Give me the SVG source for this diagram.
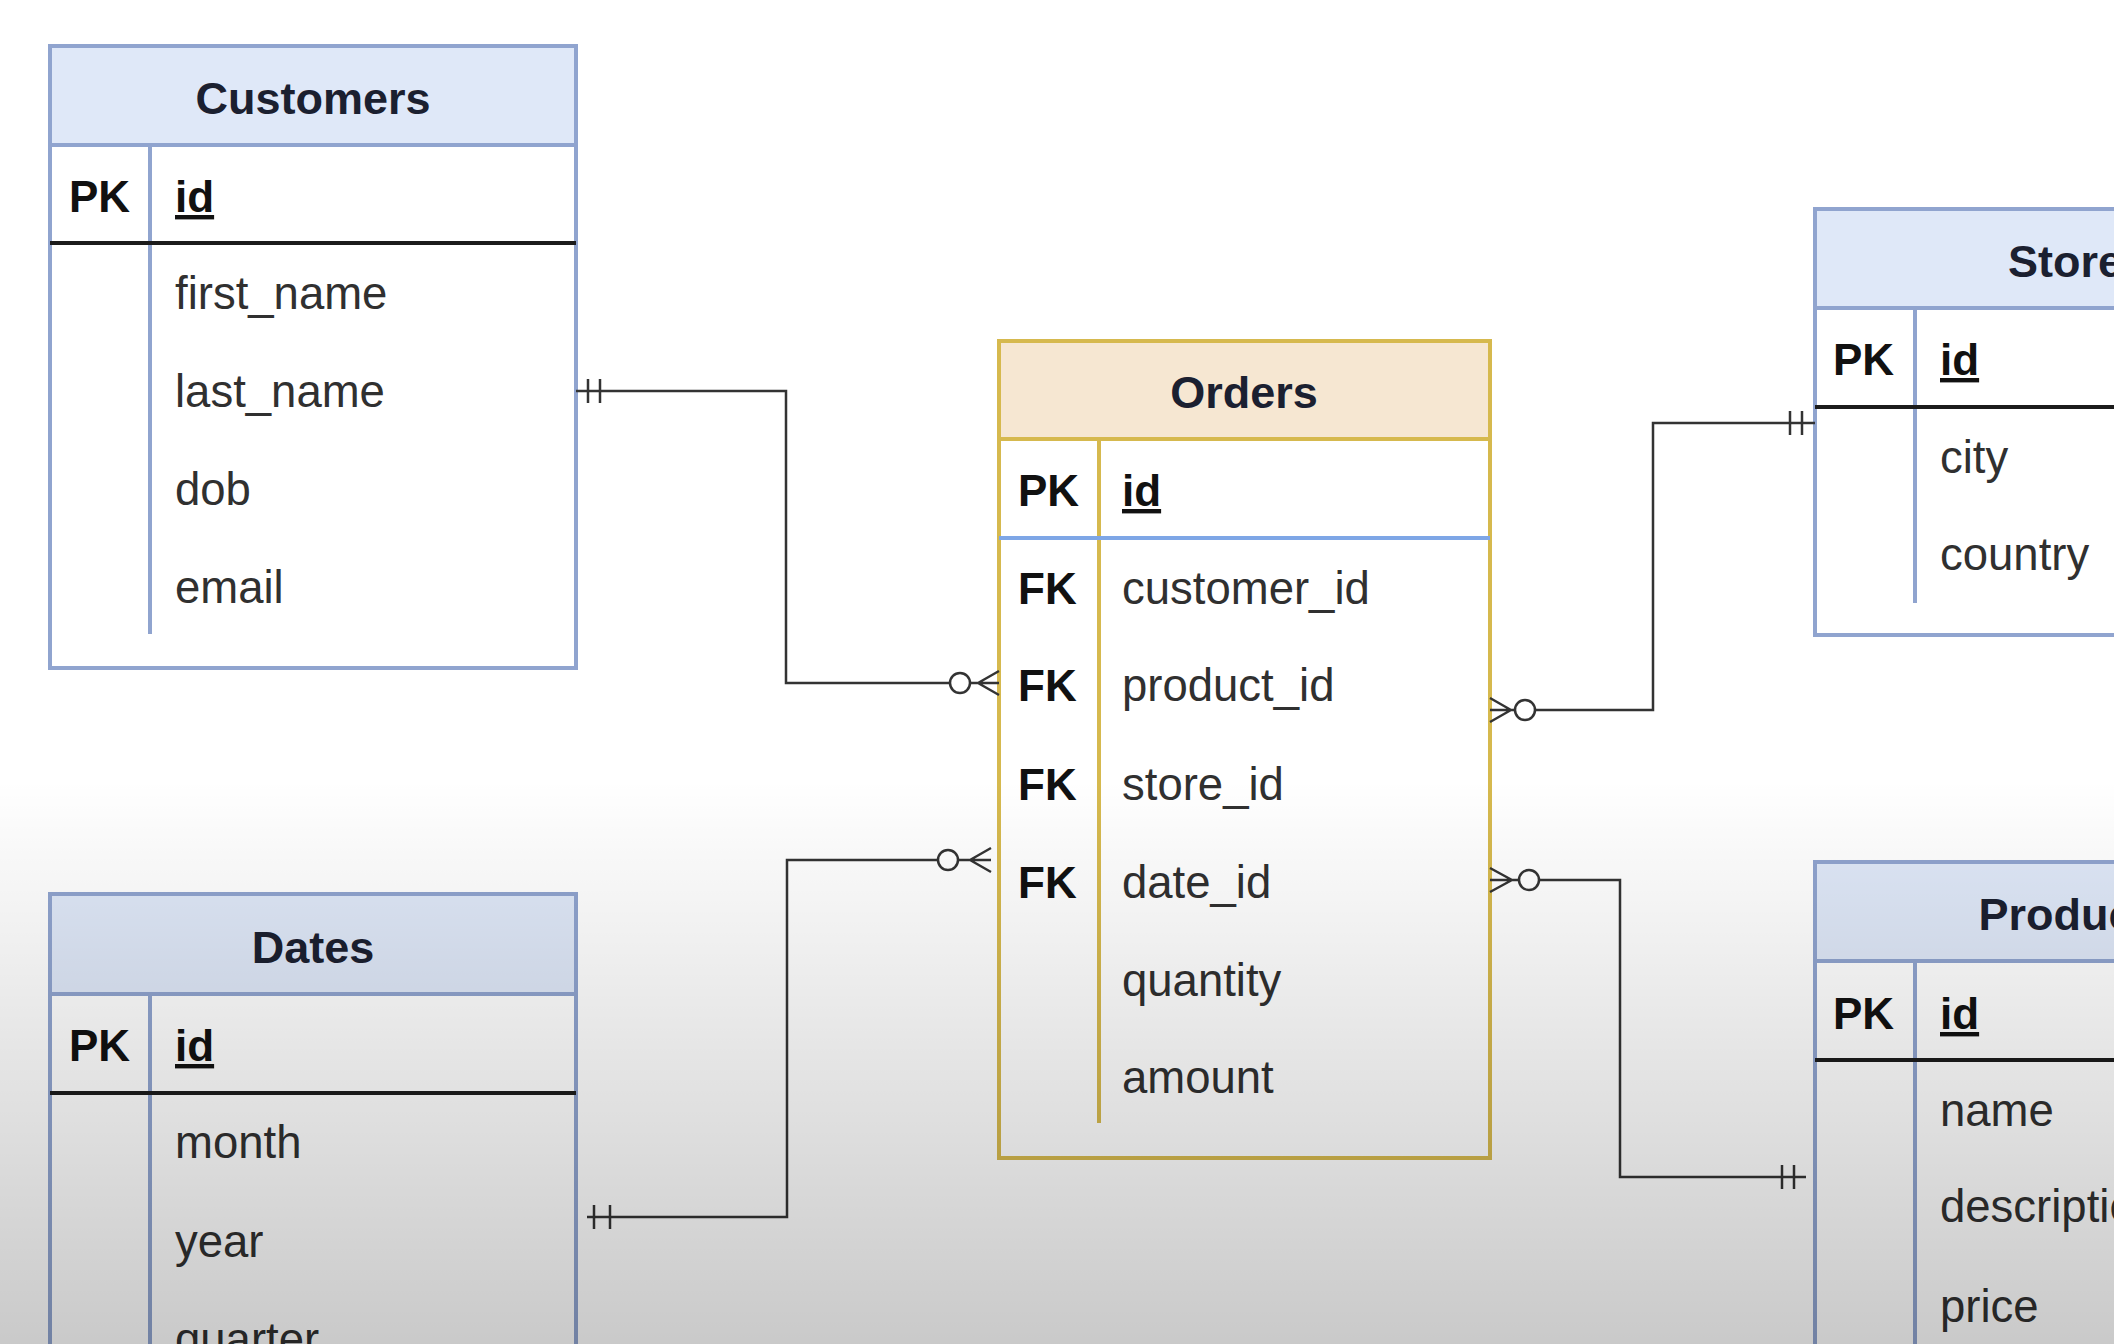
<svg xmlns="http://www.w3.org/2000/svg" width="2114" height="1344" viewBox="0 0 2114 1344">
<defs>
<linearGradient id="shade" x1="0" y1="0" x2="0" y2="1">
<stop offset="0" stop-color="#000" stop-opacity="0"/>
<stop offset="1" stop-color="#000" stop-opacity="0.21"/>
</linearGradient>
<style>
.box-b{fill:#ffffff;stroke:#90a4cf;stroke-width:4}
.hdr-b{fill:#dfe8f8;stroke:#90a4cf;stroke-width:4}
.div-b{stroke:#90a4cf;stroke-width:4}
.box-y{fill:#ffffff;stroke:#d6b94e;stroke-width:4}
.hdr-y{fill:#f6e7d2;stroke:#d6b94e;stroke-width:4}
.div-y{stroke:#d6b94e;stroke-width:4}
.pkline{stroke:#1c1c1c;stroke-width:4}
.pkblue{stroke:#7ea6e6;stroke-width:4}
.title{font-family:"Liberation Sans",Arial,sans-serif;font-size:45px;font-weight:bold;fill:#1b2030;text-anchor:middle}
.key{font-family:"Liberation Sans",Arial,sans-serif;font-size:44px;font-weight:bold;fill:#111111}
.pk{font-family:"Liberation Sans",Arial,sans-serif;font-size:44px;font-weight:bold;fill:#111111;text-decoration:underline}
.field{font-family:"Liberation Sans",Arial,sans-serif;font-size:45.5px;fill:#303030}
.conn{stroke:#333333;stroke-width:2.5;fill:none}
</style>
</defs>
<rect x="0" y="0" width="2114" height="1344" fill="#ffffff"/>

<g id="customers">
<rect class="box-b" x="50" y="46" width="526" height="622"/>
<rect class="hdr-b" x="50" y="46" width="526" height="99"/>
<line class="div-b" x1="150" y1="145" x2="150" y2="634"/>
<line class="pkline" x1="50" y1="243" x2="576" y2="243"/>
<text class="title" x="313" y="114">Customers</text>
<text class="key" x="69" y="212">PK</text>
<text class="pk" x="175" y="212">id</text>
<text class="field" x="175" y="309">first_name</text>
<text class="field" x="175" y="407">last_name</text>
<text class="field" x="175" y="505">dob</text>
<text class="field" x="175" y="603">email</text>
</g>

<g id="dates">
<rect class="box-b" x="50" y="894" width="526" height="600"/>
<rect class="hdr-b" x="50" y="894" width="526" height="100"/>
<line class="div-b" x1="150" y1="994" x2="150" y2="1400"/>
<line class="pkline" x1="50" y1="1093" x2="576" y2="1093"/>
<text class="title" x="313" y="963">Dates</text>
<text class="key" x="69" y="1061">PK</text>
<text class="pk" x="175" y="1061">id</text>
<text class="field" x="175" y="1158">month</text>
<text class="field" x="175" y="1257">year</text>
<text class="field" x="175" y="1355">quarter</text>
</g>

<g id="orders">
<rect class="box-y" x="999" y="341" width="491" height="817"/>
<rect class="hdr-y" x="999" y="341" width="491" height="98"/>
<line class="div-y" x1="1099" y1="439" x2="1099" y2="1123"/>
<line class="pkblue" x1="999" y1="538" x2="1490" y2="538"/>
<text class="title" x="1244" y="408">Orders</text>
<text class="key" x="1018" y="506">PK</text>
<text class="pk" x="1122" y="506">id</text>
<text class="key" x="1018" y="604">FK</text>
<text class="field" x="1122" y="604">customer_id</text>
<text class="key" x="1018" y="701">FK</text>
<text class="field" x="1122" y="701">product_id</text>
<text class="key" x="1018" y="800">FK</text>
<text class="field" x="1122" y="800">store_id</text>
<text class="key" x="1018" y="898">FK</text>
<text class="field" x="1122" y="898">date_id</text>
<text class="field" x="1122" y="996">quantity</text>
<text class="field" x="1122" y="1093">amount</text>
</g>

<g id="stores">
<rect class="box-b" x="1815" y="209" width="526" height="426"/>
<rect class="hdr-b" x="1815" y="209" width="526" height="99"/>
<line class="div-b" x1="1915" y1="308" x2="1915" y2="603"/>
<line class="pkline" x1="1815" y1="407" x2="2341" y2="407"/>
<text class="title" x="2078" y="277">Stores</text>
<text class="key" x="1833" y="375">PK</text>
<text class="pk" x="1940" y="375">id</text>
<text class="field" x="1940" y="473">city</text>
<text class="field" x="1940" y="570">country</text>
</g>

<g id="products">
<rect class="box-b" x="1815" y="862" width="526" height="600"/>
<rect class="hdr-b" x="1815" y="862" width="526" height="99"/>
<line class="div-b" x1="1915" y1="961" x2="1915" y2="1400"/>
<line class="pkline" x1="1815" y1="1060" x2="2341" y2="1060"/>
<text class="title" x="2076" y="930">Products</text>
<text class="key" x="1833" y="1029">PK</text>
<text class="pk" x="1940" y="1029">id</text>
<text class="field" x="1940" y="1126">name</text>
<text class="field" x="1940" y="1222">description</text>
<text class="field" x="1940" y="1322">price</text>
</g>

<g id="connectors">
<path class="conn" d="M576,391 H786 V683 H950"/>
<line class="conn" x1="588" y1="379" x2="588" y2="403"/>
<line class="conn" x1="600" y1="379" x2="600" y2="403"/>
<circle class="conn" cx="960" cy="683" r="10"/>
<path class="conn" d="M970,683 H999 M978,683 L999,671 M978,683 L999,695"/>
<path class="conn" d="M587,1217 H787 V860 H938"/>
<line class="conn" x1="594" y1="1205" x2="594" y2="1229"/>
<line class="conn" x1="610" y1="1205" x2="610" y2="1229"/>
<circle class="conn" cx="948" cy="860" r="10"/>
<path class="conn" d="M958,860 H991 M970,860 L991,848 M970,860 L991,872"/>
<path class="conn" d="M1490,710 H1515 M1511,710 L1490,698 M1511,710 L1490,722"/>
<circle class="conn" cx="1525" cy="710" r="10"/>
<path class="conn" d="M1535,710 H1653 V423 H1815"/>
<line class="conn" x1="1790" y1="411" x2="1790" y2="435"/>
<line class="conn" x1="1802" y1="411" x2="1802" y2="435"/>
<path class="conn" d="M1490,880 H1519 M1512,880 L1490,868 M1512,880 L1490,892"/>
<circle class="conn" cx="1529" cy="880" r="10"/>
<path class="conn" d="M1539,880 H1620 V1177 H1806"/>
<line class="conn" x1="1782" y1="1165" x2="1782" y2="1189"/>
<line class="conn" x1="1794" y1="1165" x2="1794" y2="1189"/>
</g>

<rect x="0" y="780" width="2114" height="564" fill="url(#shade)"/>
</svg>
